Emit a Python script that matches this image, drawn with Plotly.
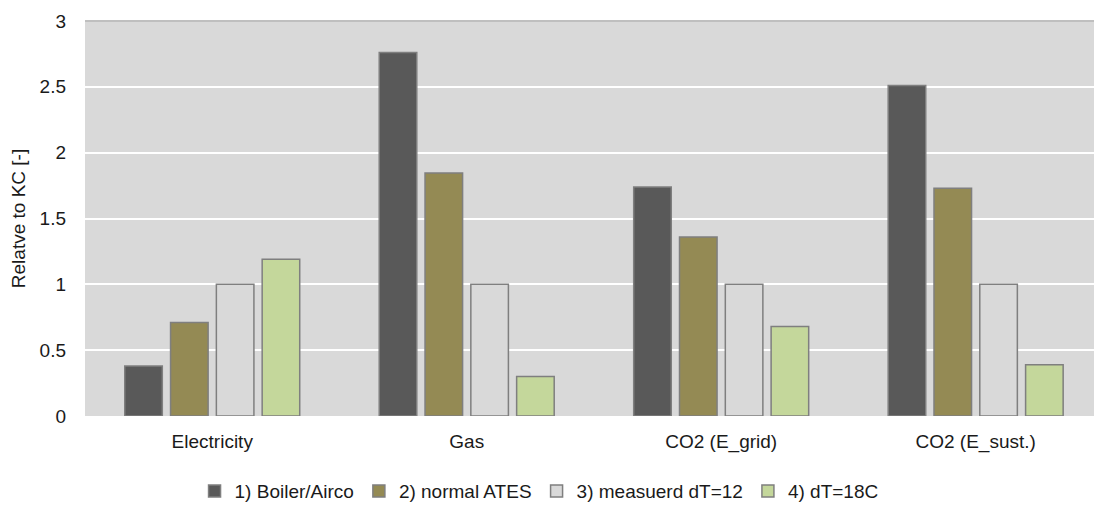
import plotly.graph_objects as go

categories = ["Electricity", "Gas", "CO2 (E_grid)", "CO2 (E_sust.)"]
series_names = ["1) Boiler/Airco", "2) normal ATES", "3) measuerd dT=12", "4) dT=18C"]
boiler_airco = [0.38, 2.76, 1.74, 2.51]
normal_ates = [0.71, 1.845, 1.36, 1.73]
measured_dt12 = [1.0, 1.0, 1.0, 1.0]
dt18 = [1.19, 0.30, 0.68, 0.39]

colors = ["#595959", "#948a54", "#d9d9d9", "#c4d79b"]
values = [boiler_airco, normal_ates, measured_dt12, dt18]

fig = go.Figure()
for name, vals, col in zip(series_names, values, colors):
    fig.add_trace(go.Bar(
        x=categories, y=vals, name=name,
        marker=dict(color=col, line=dict(color="#7f7f7f", width=1.5)),
    ))

fig.update_layout(
    width=1094, height=505,
    margin=dict(l=85, r=0, t=21, b=89, autoexpand=False),
    paper_bgcolor="white",
    plot_bgcolor="#d9d9d9",
    barmode="group",
    bargap=0.28,
    bargroupgap=0.18,
    font=dict(family="Liberation Sans, Arial, sans-serif", size=19, color="#1a1a1a"),
    showlegend=True,
    legend=dict(
        orientation="h", x=0.45, xanchor="center", y=-0.19, yanchor="middle",
        font=dict(size=19), traceorder="normal", itemwidth=30,
    ),
    xaxis=dict(showgrid=False, ticks="", showline=False, tickfont=dict(size=19),
               range=[-0.5, 3.465], ticklabelstandoff=12, automargin=False),
    yaxis=dict(
        range=[0, 3], dtick=0.5, showgrid=True, gridcolor="white", gridwidth=2,
        zeroline=False, showline=False, ticks="", tickfont=dict(size=19),
        tickformat="~g", ticklabelstandoff=18, automargin=False,
        title=dict(text="Relatve to KC [-]", font=dict(size=19), standoff=8),
    ),
)
fig.add_shape(type="line", xref="paper", yref="paper", x0=0, x1=1, y0=1, y1=1,
              line=dict(color="#bfbfbf", width=2))

fig.write_html("out.html")
